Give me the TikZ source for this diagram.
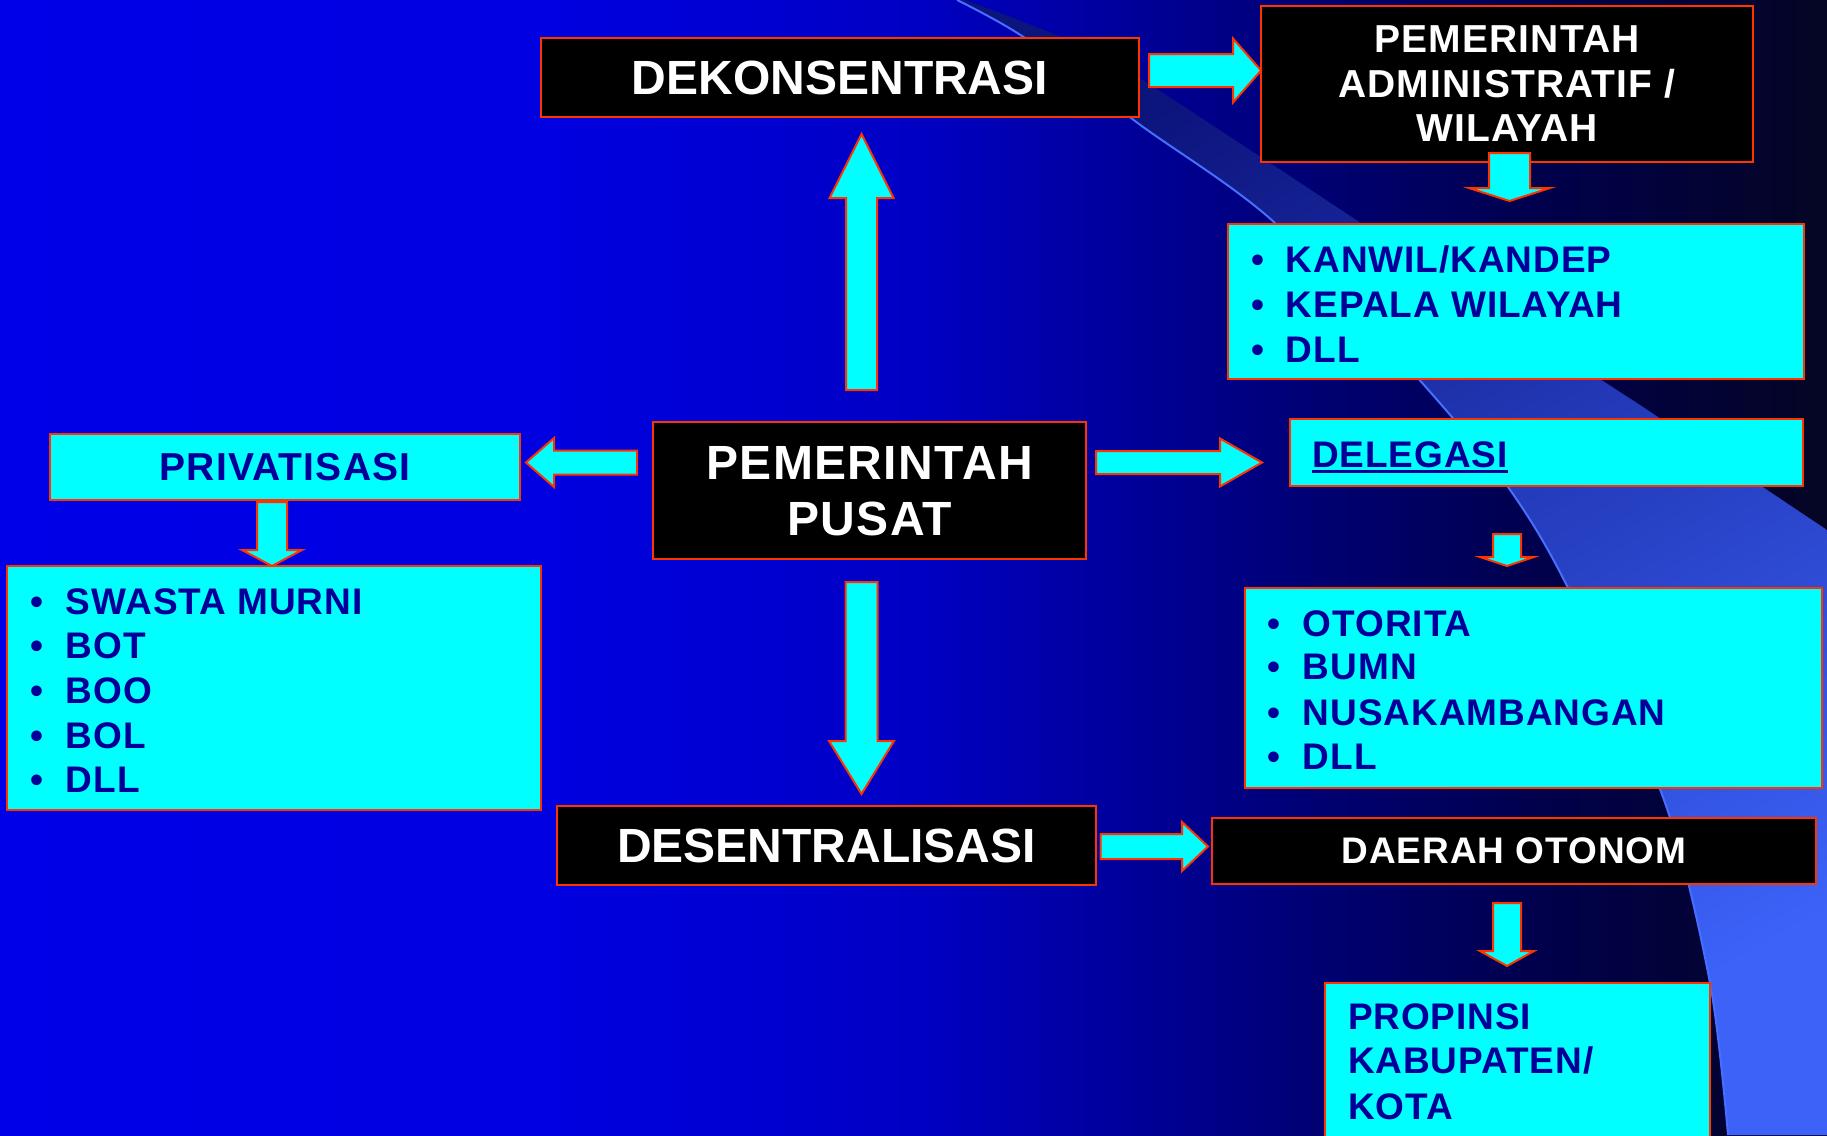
\documentclass[tikz,border=0pt]{standalone}
\usepackage{fontspec}
\setmainfont{Liberation Sans}
\usetikzlibrary{calc}
\definecolor{edge}{RGB}{255,51,0}
\definecolor{cyanfill}{RGB}{0,255,255}
\definecolor{navytext}{RGB}{0,0,153}
\definecolor{bandtop}{RGB}{12,20,125}
\definecolor{bandmid}{RGB}{48,82,228}
\definecolor{bandbot}{RGB}{60,98,248}
\definecolor{bandline}{RGB}{70,110,255}
\pgfdeclarehorizontalshading{bgshade}{100bp}{rgb(0bp)=(0,0,0.91); rgb(25bp)=(0,0,0.91); rgb(40bp)=(0,0,0.88); rgb(50bp)=(0,0,0.77); rgb(56bp)=(0,0,0.60); rgb(61bp)=(0,0,0.45); rgb(67.5bp)=(0,0,0.29); rgb(75bp)=(0.02,0.02,0.14); rgb(100bp)=(0.02,0.02,0.14)}
\newcommand\bulletbox[1]{\makebox[#1][l]{•}}
\newcommand\blockarr[5]{%
  \coordinate (ba) at ($(#2)!#5pt!(#1)$);
  \draw[blockarrow] ($(#1)!#3pt!90:(#2)$) -- ($(ba)!#3pt!-90:(#1)$) -- ($(ba)!#4pt!-90:(#1)$) -- (#2) -- ($(ba)!#4pt!90:(#1)$) -- ($(ba)!#3pt!90:(#1)$) -- ($(#1)!#3pt!-90:(#2)$) -- cycle;}
\tikzset{
  box/.style={draw=edge, line width=2.5pt, inner sep=0pt, outer sep=0pt},
  blackbox/.style={box, fill=black, text=white, align=center},
  cyanbox/.style={box, fill=cyanfill, text=navytext, align=center},
  bigfont/.style={font=\bfseries\fontsize{48}{56}\selectfont},
  widebigfont/.style={font=\bfseries\fontsize{48}{56}\selectfont\addfontfeature{LetterSpace=3}},
  midfont/.style={font=\bfseries\fontsize{39}{44.5}\selectfont\addfontfeature{LetterSpace=3}},
  smallfont/.style={font=\bfseries\fontsize{37}{44}\selectfont\addfontfeature{LetterSpace=2.5}},
  item/.style={anchor=base west, inner sep=0pt, outer sep=0pt, text=navytext, smallfont},
  blockarrow/.style={draw=edge, line width=2pt, fill=cyanfill, line join=miter}
}
\begin{document}
\begin{tikzpicture}[x=1pt,y=-1pt]
\useasboundingbox (0,0) rectangle (1827,1135);
\clip (0,0) rectangle (1827,1135);
% background
\shade[shading=bgshade] (0,0) rectangle (1827,1135);
\shade[top color=bandtop, middle color=bandmid, bottom color=bandbot, shading angle=30]
  plot[smooth] coordinates {(957,0) (1025,38) (1139,124) (1275,223) (1424,385) (1508,487) (1568,588) (1664,800) (1710,983) (1728,1135)}
  -- (1827,1135) -- (1827,530)
  -- plot[smooth] coordinates {(1640,405) (1420,262) (1250,150) (1100,55) (965,0)} -- cycle;
\draw[bandline, line width=2pt] plot[smooth] coordinates {(957,0) (1025,38) (1139,124) (1275,223) (1424,385) (1508,487) (1568,588) (1664,800) (1710,983) (1728,1135)};

% boxes
\node[blackbox, bigfont, minimum width=598pt, minimum height=79pt] (dekon) at (840,77.5) {DEKONSENTRASI};
\node[blackbox, midfont, minimum width=492pt, minimum height=156pt, text depth=-5pt] (admin) at (1507,84) {PEMERINTAH\\ADMINISTRATIF /\\WILAYAH};
\node[cyanbox, minimum width=576pt, minimum height=155pt] (kanwil) at (1516,301.5) {};
\node[cyanbox, minimum width=513pt, minimum height=67pt] (deleg) at (1546.5,452.5) {};
\node[cyanbox, minimum width=577pt, minimum height=200pt] (otor) at (1533.5,688) {};
\node[blackbox, smallfont, minimum width=604pt, minimum height=66pt] (daerah) at (1514,851) {DAERAH OTONOM};
\node[cyanbox, minimum width=385pt, minimum height=177pt] (prop) at (1517.5,1071.5) {};
\node[cyanbox, midfont, minimum width=470pt, minimum height=66pt] (priv) at (285,467) {PRIVATISASI};
\node[cyanbox, minimum width=534pt, minimum height=244pt] (swasta) at (274,688) {};
\node[blackbox, widebigfont, minimum width=433pt, minimum height=137pt, text depth=-6pt] (pusat) at (869.5,490.5) {PEMERINTAH\\PUSAT};
\node[blackbox, bigfont, minimum width=539pt, minimum height=79pt] (desent) at (826.5,845.5) {DESENTRALISASI};

% arrows
\coordinate (a1s) at ($(dekon.east)+(10,-7)$);
\coordinate (a1t) at (admin.west |- a1s);
\blockarr{a1s}{a1t}{16.5}{32}{28}
\coordinate (a2s) at ($(admin.south)+(2.5,-9)$);
\coordinate (a2t) at ($(kanwil.north -| a2s)+(0,-23)$);
\blockarr{a2s}{a2t}{20.5}{40.5}{13}
\coordinate (a3s) at ($(pusat.north)+(-8,-32)$);
\coordinate (a3t) at ($(dekon.south -| a3s)+(0,17)$);
\blockarr{a3s}{a3t}{15.5}{32}{64}
\coordinate (a4s) at ($(pusat.east)+(10,-28)$);
\coordinate (a4t) at ($(deleg.west |- a4s)+(-28,0)$);
\blockarr{a4s}{a4t}{11.5}{24}{42}
\coordinate (a5s) at ($(pusat.west)+(-16,-28)$);
\coordinate (a5t) at ($(priv.east |- a5s)+(6,0)$);
\blockarr{a5s}{a5t}{12}{24.5}{28}
\coordinate (a6s) at ($(priv.south)+(-13,2)$);
\coordinate (a6t) at (swasta.north -| a6s);
\blockarr{a6s}{a6t}{15}{30}{16}
\coordinate (a7s) at ($(pusat.south)+(-8,23)$);
\coordinate (a7t) at ($(desent.north -| a7s)+(0,-12)$);
\blockarr{a7s}{a7t}{16}{32.5}{53}
\coordinate (a8s) at ($(desent.east)+(4.5,1)$);
\coordinate (a8t) at ($(daerah.west |- a8s)+(-4,0)$);
\blockarr{a8s}{a8t}{12.5}{24.5}{26}
\coordinate (a9s) at ($(deleg.south)+(-39.5,48)$);
\coordinate (a9t) at ($(otor.north -| a9s)+(0,-22)$);
\blockarr{a9s}{a9t}{14}{27}{9}
\coordinate (a10s) at ($(daerah.south)+(-7,19)$);
\coordinate (a10t) at ($(prop.north -| a10s)+(0,-17)$);
\blockarr{a10s}{a10t}{14}{27}{15}

% texts
\node[item] (k1) at (1251,272) {\bulletbox{35pt}KANWIL/KANDEP};
\node[item] (k2) at (1251,317) {\bulletbox{35pt}KEPALA WILAYAH};
\node[item] (k3) at (1251,362) {\bulletbox{35pt}DLL};
\node[item] (dtext) at (1312,467) {DELEGASI};
\draw[navytext, line width=3pt] ($(dtext.base west)+(0,4.5)$) -- ($(dtext.base east)+(0,4.5)$);
\node[item] (o1) at (1267,636) {\bulletbox{36pt}OTORITA};
\node[item] (o2) at (1267,679) {\bulletbox{36pt}BUMN};
\node[item] (o3) at (1267,725) {\bulletbox{36pt}NUSAKAMBANGAN};
\node[item] (o4) at (1267,769) {\bulletbox{36pt}DLL};
\node[item] (s1) at (30,614) {\bulletbox{36pt}SWASTA MURNI};
\node[item] (s2) at (30,658) {\bulletbox{36pt}BOT};
\node[item] (s3) at (30,703) {\bulletbox{36pt}BOO};
\node[item] (s4) at (30,748) {\bulletbox{36pt}BOL};
\node[item] (s5) at (30,792) {\bulletbox{36pt}DLL};
\node[item] (p1) at (1348,1029) {PROPINSI};
\node[item] (p2) at (1348,1073) {KABUPATEN/};
\node[item] (p3) at (1348,1119) {KOTA};
\end{tikzpicture}
\end{document}
